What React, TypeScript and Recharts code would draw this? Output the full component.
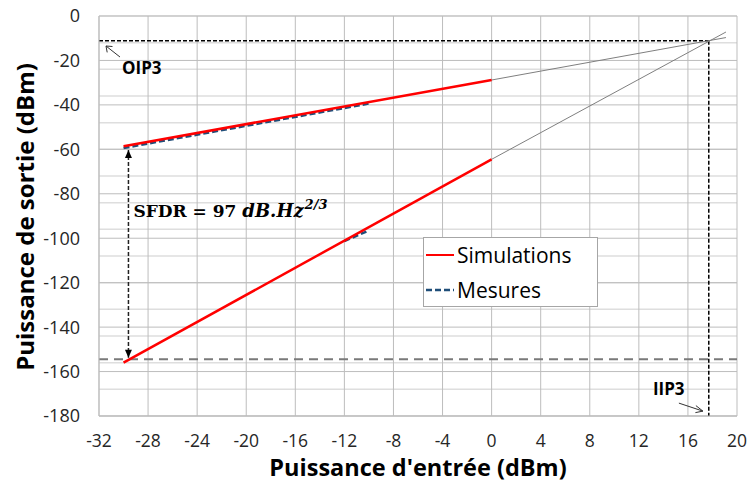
import React from "react";
import {
  ComposedChart,
  Line,
  XAxis,
  YAxis,
  CartesianGrid,
  ReferenceLine,
  ReferenceDot,
} from "recharts";

// axes
const xTicks = [-32, -28, -24, -20, -16, -12, -8, -4, 0, 4, 8, 12, 16, 20];
const yTicks = [0, -20, -40, -60, -80, -100, -120, -140, -160, -180];

// simulations (red)
const simX = [-30, 0];
const simFund = [-58.6, -28.8];
const simIM3 = [-156, -64.5];

// extrapolation (thin grey)
const extX = [0, 19.1];
const extFund = [-28.8, -9.7];
const extIM3 = [-64.5, -7.2];

// measures (blue dashed)
const mesFundX = [-30, -10];
const mesFund = [-59.4, -39.4];
const mesIM3X = [-12, -10];
const mesIM3 = [-101.3, -96.5];

// annotations
const IIP3 = 17.7;
const OIP3 = -11.1;
const noiseFloor = -154.5;
const sfdrX = -29.6;
const sfdrTop = -60.3;
const sfdrBottom = -153.8;

const pts = (xs: number[], ys: number[]) => xs.map((x, i) => ({ x, y: ys[i] }));

const minorY = Array.from({ length: 46 }, (_, i) => -4 * i);

const FONT = "'Open Sans', sans-serif";

export default function App() {
  return (
    <div style={{ position: "absolute", left: 0, top: 0, width: 749, height: 491, background: "#fff" }}>
      <ComposedChart width={749} height={491} margin={{ top: 16, right: 12, left: 0, bottom: 0 }}>
        <CartesianGrid
          horizontalValues={minorY}
          vertical={false}
          stroke="#dedede"
          strokeWidth={1.5}
        />
        <CartesianGrid
          horizontalValues={yTicks}
          verticalValues={xTicks}
          stroke="#bdbdbd"
          strokeWidth={1}
        />
        <XAxis
          dataKey="x"
          type="number"
          domain={[-32, 20]}
          ticks={xTicks}
          allowDataOverflow
          height={75}
          tickLine={false}
          axisLine={{ stroke: "#bdbdbd" }}
          tickMargin={13}
          tick={{ fontSize: 17.5, fill: "#262626", fontFamily: FONT }}
          label={{
            content: () => (
              <text
                x={418}
                y={476}
                textAnchor="middle"
                fontFamily={FONT}
                fontWeight="bold"
                fontSize={23.5}
                fill="#000"
              >
                Puissance d'entrée (dBm)
              </text>
            ),
          }}
        />
        <YAxis
          type="number"
          domain={[-180, 0]}
          ticks={yTicks}
          allowDataOverflow
          width={99}
          tickLine={false}
          axisLine={{ stroke: "#bdbdbd" }}
          tickMargin={13}
          tick={{ fontSize: 18, fill: "#262626", fontFamily: FONT }}
          label={{
            content: () => (
              <text
                x={24}
                y={217}
                transform="rotate(-90, 24, 217)"
                textAnchor="middle"
                dominantBaseline="central"
                fontFamily={FONT}
                fontWeight="bold"
                fontSize={24}
                fill="#000"
              >
                Puissance de sortie (dBm)
              </text>
            ),
          }}
        />

        <ReferenceLine y={noiseFloor} stroke="#7a7a7a" strokeWidth={2} strokeDasharray="9 6" />
        <ReferenceLine
          segment={[{ x: -32, y: OIP3 }, { x: IIP3, y: OIP3 }]}
          stroke="#000"
          strokeWidth={1.5}
          strokeDasharray="4 2"
        />
        <ReferenceLine
          segment={[{ x: IIP3, y: OIP3 }, { x: IIP3, y: -180 }]}
          stroke="#000"
          strokeWidth={1.5}
          strokeDasharray="4 2"
        />
        <ReferenceLine
          segment={[{ x: sfdrX, y: sfdrTop }, { x: sfdrX, y: sfdrBottom }]}
          stroke="#222"
          strokeWidth={1.5}
          strokeDasharray="4 2"
        />

        <Line data={pts(extX, extFund)} dataKey="y" stroke="#7f7f7f" strokeWidth={1} dot={false} isAnimationActive={false} />
        <Line data={pts(extX, extIM3)} dataKey="y" stroke="#7f7f7f" strokeWidth={1} dot={false} isAnimationActive={false} />
        <Line data={pts(mesFundX, mesFund)} dataKey="y" stroke="#1f4e79" strokeWidth={2.5} strokeDasharray="6 3" dot={false} isAnimationActive={false} />
        <Line data={pts(mesIM3X, mesIM3)} dataKey="y" stroke="#1f4e79" strokeWidth={2.5} strokeDasharray="6 3" dot={false} isAnimationActive={false} />
        <Line data={pts(simX, simFund)} dataKey="y" stroke="#ff0000" strokeWidth={2.5} dot={false} isAnimationActive={false} />
        <Line data={pts(simX, simIM3)} dataKey="y" stroke="#ff0000" strokeWidth={2.5} dot={false} isAnimationActive={false} />

        <ReferenceDot
          x={sfdrX}
          y={sfdrTop}
          r={0}
          shape={(p: any) => (
            <path d={`M${p.cx - 3.5},${p.cy + 8} L${p.cx},${p.cy} L${p.cx + 3.5},${p.cy + 8} Z`} fill="#000" />
          )}
        />
        <ReferenceDot
          x={sfdrX}
          y={sfdrBottom}
          r={0}
          shape={(p: any) => (
            <path d={`M${p.cx - 3.5},${p.cy - 8} L${p.cx},${p.cy} L${p.cx + 3.5},${p.cy - 8} Z`} fill="#000" />
          )}
        />
        <ReferenceDot
          x={sfdrX}
          y={-90.5}
          r={0}
          shape={(p: any) => (
            <text x={p.cx + 5} y={p.cy} fontFamily="'DejaVu Serif', serif" fontWeight="bold" fontSize={17} fill="#000">
              <tspan>SFDR = 97 </tspan>
              <tspan fontStyle="italic" fontSize={18}>dB.Hz</tspan>
              <tspan fontStyle="italic" fontSize={13} dy={-8} dx={1}>2/3</tspan>
            </text>
          )}
        />
        <ReferenceDot
          x={-31.43}
          y={-13.5}
          r={0}
          shape={(p: any) => (
            <g>
              <path d={`M${p.cx},${p.cy} L${p.cx + 14},${p.cy + 11}`} stroke="#333" strokeWidth={1} fill="none" />
              <path d={`M${p.cx + 6.5},${p.cy + 0.5} L${p.cx},${p.cy} L${p.cx + 1.2},${p.cy + 6.4}`} stroke="#333" strokeWidth={1} fill="none" />
              <text x={p.cx + 16} y={p.cy + 28} fontFamily={FONT} fontWeight="bold" fontSize={17} fill="#000">
                OIP3
              </text>
            </g>
          )}
        />
        <ReferenceDot
          x={17.22}
          y={-177.8}
          r={0}
          shape={(p: any) => (
            <g>
              <path d={`M${p.cx},${p.cy} L${p.cx - 24},${p.cy - 8}`} stroke="#333" strokeWidth={1} fill="none" />
              <path d={`M${p.cx - 7},${p.cy - 5.5} L${p.cx},${p.cy} L${p.cx - 7.5},${p.cy + 1.5}`} stroke="#333" strokeWidth={1} fill="none" />
              <text x={p.cx - 50} y={p.cy - 16} fontFamily={FONT} fontWeight="bold" fontSize={17} fill="#000">
                IIP3
              </text>
            </g>
          )}
        />
      </ComposedChart>

      <div
        style={{
          position: "absolute",
          left: 423,
          top: 237,
          width: 175,
          height: 70,
          border: "1px solid #a6a6a6",
          background: "#fff",
          boxSizing: "border-box",
        }}
      >
        <svg width={173} height={68} style={{ display: "block" }}>
          <line x1={2} y1={17} x2={30} y2={17} stroke="#ff0000" strokeWidth={2} />
          <text x={33} y={17} dominantBaseline="central" fontFamily={FONT} fontSize={21} fill="#000">
            Simulations
          </text>
          <line x1={2} y1={52} x2={30} y2={52} stroke="#1f4e79" strokeWidth={2.5} strokeDasharray="6 3" />
          <text x={33} y={52} dominantBaseline="central" fontFamily={FONT} fontSize={21} fill="#000">
            Mesures
          </text>
        </svg>
      </div>
    </div>
  );
}
